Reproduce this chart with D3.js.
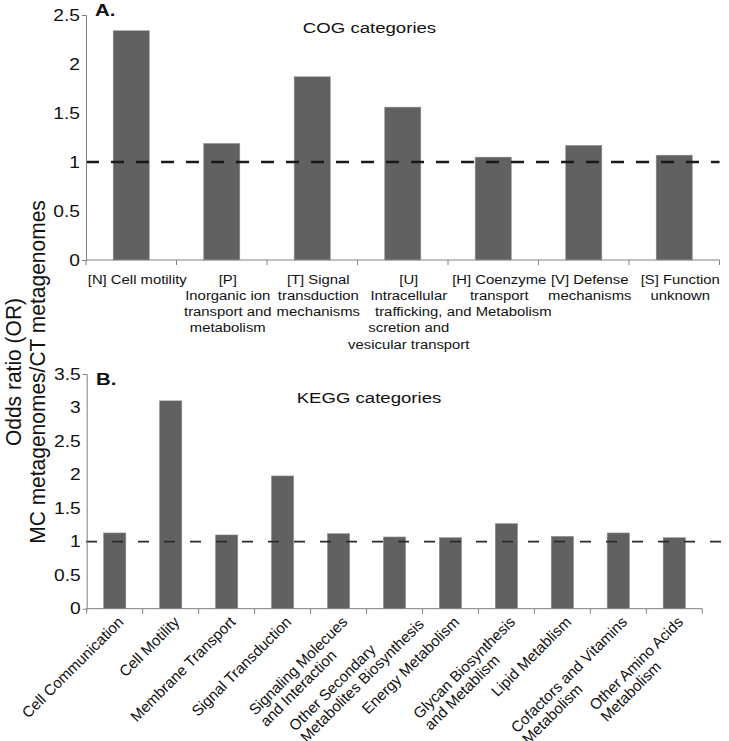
<!DOCTYPE html>
<html lang="en">
    <head>
        <meta charset="utf-8">
        <title>Odds ratio COG / KEGG</title>
        <script type="text/javascript" src="https://cdn.jsdelivr.net/npm/d3@7/dist/d3.min.js"></script>
        <style type="text/css">
           body { margin: 0; background: #fff; }
           text {
               font-family: "Liberation Sans", Arial, sans-serif;
               fill: #111;
           }
        </style>
    </head>
    <body>
        <script type="text/javascript">

              var w = 729;
              var h = 741;

              // COG panel
              var cogCategories = [
                  "[N] Cell motility",
                  "[P]|Inorganic ion|transport and|metabolism",
                  "[T] Signal|transduction|mechanisms",
                  "[U]|Intracellular|trafficking,|scretion and|vesicular transport",
                  "[H] Coenzyme|transport|and Metabolism",
                  "[V] Defense|mechanisms",
                  "[S] Function|unknown"
              ];
              var cogValues = [2.34, 1.19, 1.87, 1.56, 1.05, 1.17, 1.07];
              var cogTicks = [0, 0.5, 1, 1.5, 2, 2.5];

              // KEGG panel
              var keggCategories = [
                  "Cell Communication",
                  "Cell Motility",
                  "Membrane Transport",
                  "Signal Transduction",
                  "Signaling Molecues|and Interaction",
                  "Other Secondary|Metabolites Biosynthesis",
                  "Energy Metabolism",
                  "Glycan Biosynthesis|and Metablism",
                  "Lipid Metablism",
                  "Cofactors and Vitamins|Metabolism",
                  "Other Amino Acids|Metabolism"
              ];
              var keggValues = [1.13, 3.10, 1.10, 1.98, 1.12, 1.07, 1.06, 1.27, 1.08, 1.13, 1.06];
              var keggTicks = [0, 0.5, 1, 1.5, 2, 2.5, 3, 3.5];

              var refLine = 1;

              var SX = 1.2; // text in the picture is a bit wider than it is tall
              var barColor = "#616161";
              var axisColor = "#808080";

              var svg = d3.select("body")
                          .append("svg")
                          .attr("width", w)
                          .attr("height", h);

              function yAxis(g, y, ticks) {
                  g.call(d3.axisLeft(y)
                           .tickValues(ticks)
                           .tickFormat(function(d) { return d; })
                           .tickSizeInner(0)
                           .tickSizeOuter(4)
                           .tickPadding(0));
                  g.select(".domain").attr("stroke", axisColor);
                  g.selectAll(".tick line").remove();
                  g.selectAll(".tick text")
                   .attr("font-size", 16)
                   .attr("fill", "#111")
                   .attr("x", -6 / SX)
                   .attr("transform", "scale(" + SX + ",1)");
              }

              function xAxis(g, x) {
                  var r = x.range();
                  g.append("line")
                   .attr("x1", r[0]).attr("x2", r[1])
                   .attr("stroke", axisColor);
                  var bounds = x.domain().map(function(d) { return x(d) - x.step() * x.paddingInner() / 2; });
                  bounds.push(r[1]);
                  g.selectAll("line.tk")
                   .data(bounds)
                   .enter()
                   .append("line")
                   .attr("class", "tk")
                   .attr("x1", function(d) { return d; })
                   .attr("x2", function(d) { return d; })
                   .attr("y1", 0).attr("y2", 5)
                   .attr("stroke", axisColor);
              }

              function bars(g, x, y, cats, vals) {
                  g.selectAll("rect")
                   .data(vals)
                   .enter()
                   .append("rect")
                   .attr("x", function(d, i) { return x(cats[i]); })
                   .attr("width", x.bandwidth())
                   .attr("y", function(d) { return y(d); })
                   .attr("height", function(d) { return y(0) - y(d); })
                   .attr("fill", barColor)
                   .attr("stroke", "#9a9a9a")
                   .attr("stroke-width", 0.5);
              }

              function stretchedText(x, y, str, size, weight, anchor, sx) {
                  return svg.append("text")
                            .attr("transform", "translate(" + x + "," + y + ") scale(" + (sx || SX) + ",1)")
                            .attr("text-anchor", anchor)
                            .attr("font-size", size)
                            .attr("font-weight", weight)
                            .text(str);
              }

              // ---------- A. COG ----------
              var xA = d3.scaleBand()
                         .domain(cogCategories)
                         .range([86, 719.5])
                         .paddingInner(0.6)
                         .paddingOuter(0.3);
              var yA = d3.scaleLinear().domain([0, 2.5]).range([260, 15]);

              var gA = svg.append("g");
              bars(gA, xA, yA, cogCategories, cogValues);

              gA.append("line")
                .attr("x1", 86).attr("x2", xA.range()[1])
                .attr("y1", yA(refLine)).attr("y2", yA(refLine))
                .attr("stroke", "#1a1a1a")
                .attr("stroke-width", 2.4)
                .attr("stroke-dasharray", "13,12");

              xAxis(gA.append("g").attr("transform", "translate(0," + yA(0) + ")"), xA);
              yAxis(gA.append("g").attr("transform", "translate(86,0)"), yA, cogTicks);

              cogCategories.forEach(function(c) {
                  var cx = xA(c) + xA.bandwidth() / 2 + 6;
                  c.split("|").forEach(function(line, j) {
                      stretchedText(cx, 283.5 + j * 16.3, line, 13.5, "normal", "middle", 1.1);
                  });
              });

              stretchedText(95, 16, "A.", 17, "bold", "start");
              stretchedText(369.5, 33, "COG categories", 15.5, "normal", "middle");

              // ---------- B. KEGG ----------
              var xB = d3.scaleBand()
                         .domain(keggCategories)
                         .range([86.7, 702.3])
                         .paddingInner(0.6)
                         .paddingOuter(0.3);
              var yB = d3.scaleLinear().domain([0, 3.5]).range([608.7, 374]);

              var gB = svg.append("g");
              bars(gB, xB, yB, keggCategories, keggValues);

              gB.append("line")
                .attr("x1", 86).attr("x2", 725)
                .attr("y1", yB(refLine)).attr("y2", yB(refLine))
                .attr("stroke", "#2a2a2a")
                .attr("stroke-width", 1.6)
                .attr("stroke-dasharray", "11,15");

              xAxis(gB.append("g").attr("transform", "translate(0," + yB(0) + ")"), xB);
              yAxis(gB.append("g").attr("transform", "translate(86.7,0)"), yB, keggTicks);

              // rotated labels: lines left aligned, first line next to the axis,
              // block ends near the tick (pushed on a bit when a later line is longer)
              keggCategories.forEach(function(c) {
                  var cx = xB(c) + xB.bandwidth() / 2 + 6;
                  var lines = c.split("|");
                  var lab = svg.append("g")
                               .attr("transform", "translate(" + cx + "," + (yB(0) + 10.5) + ") rotate(-45)");
                  var texts = lines.map(function(line, j) {
                      return lab.append("text")
                                .attr("font-size", 15.2)
                                .attr("y", j * 16)
                                .attr("dy", "0.35em")
                                .text(line);
                  });
                  var widths = texts.map(function(t) { return t.node().getComputedTextLength(); });
                  var maxW = d3.max(widths);
                  var x0 = -maxW + (maxW - widths[0]) / 4;
                  texts.forEach(function(t) { t.attr("x", x0); });
              });

              stretchedText(96, 385, "B.", 17, "bold", "start");
              stretchedText(369, 403, "KEGG categories", 15.5, "normal", "middle");

              // ---------- shared y title ----------
              var yTitle = ["Odds ratio (OR)", "MC metagenomes/CT metagenomes"];
              yTitle.forEach(function(t, i) {
                  svg.append("text")
                     .attr("transform", "translate(" + (21 + i * 24) + ",372) scale(1.05,1) rotate(-90)")
                     .attr("text-anchor", "middle")
                     .attr("font-size", 21)
                     .text(t);
              });

        </script>
    </body>
</html>
